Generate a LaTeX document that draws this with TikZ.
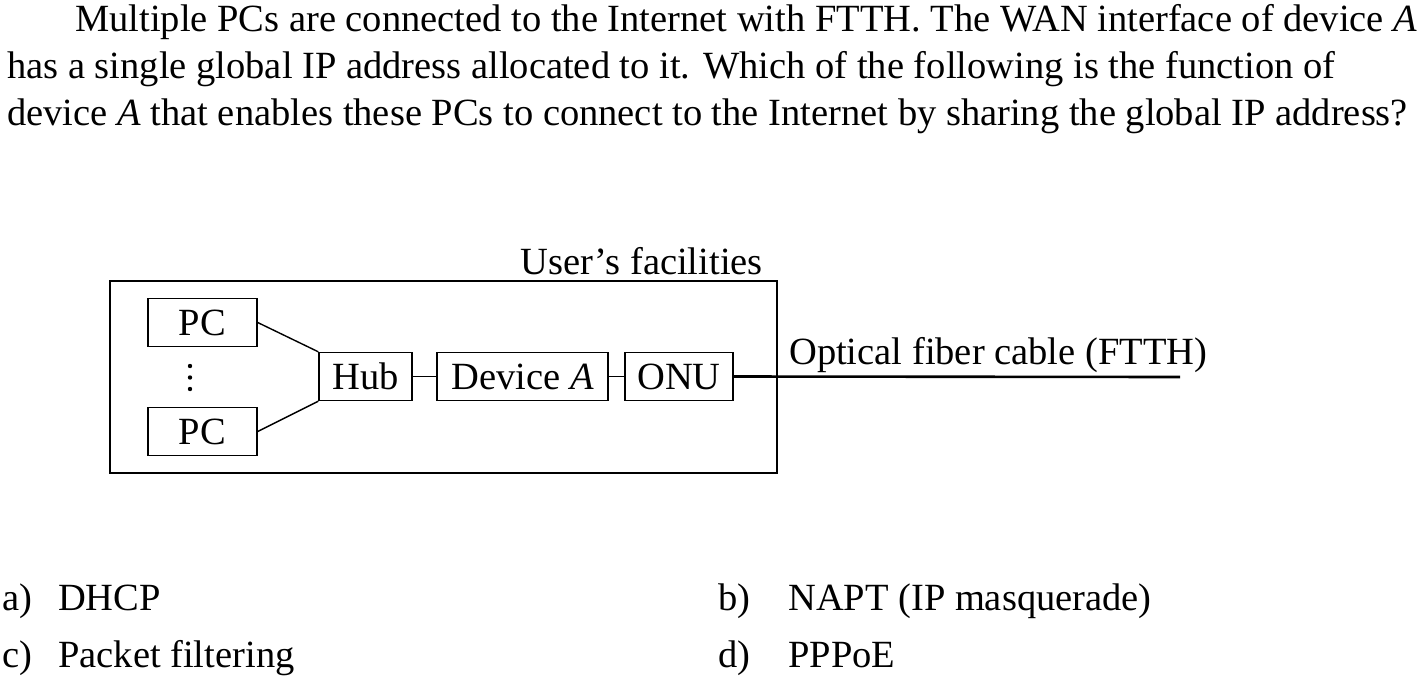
\documentclass[tikz,border=0pt]{standalone}
\usepackage{fontspec}
\setmainfont{Liberation Serif}
\begin{document}
\begin{tikzpicture}[x=1pt,y=-1pt,
  txt/.style={inner sep=0pt,anchor=base west,font=\fontsize{38.5}{46}\selectfont},
  dev/.style={draw,line width=1.4pt,inner sep=0pt,font=\fontsize{38.5}{46}\selectfont,minimum height=48pt},
  link/.style={line width=1.4pt},
  fiber/.style={line width=2.6pt}]
\useasboundingbox (0,0) rectangle (1426,675);
% question
\node[txt] (q1) at (75,31) {Multiple PCs are connected to the Internet with FTTH. The WAN interface of device \textit{A}};
\node[txt] (q2) at (7,78) {has a single global IP address allocated to it. Which of the following is the function of};
\node[txt] (q3) at (7,125) {device \textit{A} that enables these PCs to connect to the Internet by sharing the global IP address?};
% diagram
\node[draw,line width=1.4pt,inner sep=0pt,minimum width=667pt,minimum height=192pt] (user) at (443.5,377) {};
\node[txt,anchor=base east] (userlbl) at (763,274) {User’s facilities};
\node[dev,minimum width=109pt] (pc1) at (202.5,322.5) {PC};
\node[dev,minimum width=109pt] (pc2) at (202.5,431.5) {PC};
\node[dev,minimum width=93pt] (hub) at (365.5,376.5) {Hub};
\node[dev,minimum width=171pt] (deva) at (522.5,376.5) {Device \textit{A}};
\node[dev,minimum width=108pt] (onu) at (679,376.5) {ONU};
\coordinate (fend) at (1180,377);
\node[txt] (fiberlbl) at (789,364) {Optical fiber cable (FTTH)};
\fill (190,366) circle (2.2pt) (190,377.5) circle (2.2pt) (190,389) circle (2.2pt);
\draw[link] (pc1.east) -- (hub.north west);
\draw[link] (pc2.east) -- (hub.south west);
\draw[link] (hub) -- (deva);
\draw[link] (deva) -- (onu);
\draw[fiber] (onu.east) -- (fend);
% answers
\node[txt] (a) at (2,610) {a)};
\node[txt] (at) at (58,610) {DHCP};
\node[txt] (b) at (718,610) {b)};
\node[txt] (bt) at (788,610) {NAPT (IP masquerade)};
\node[txt] (c) at (2,667) {c)};
\node[txt] (ct) at (58,667) {Packet filtering};
\node[txt] (d) at (718,667) {d)};
\node[txt] (dt) at (788,667) {PPPoE};
\end{tikzpicture}
\end{document}
